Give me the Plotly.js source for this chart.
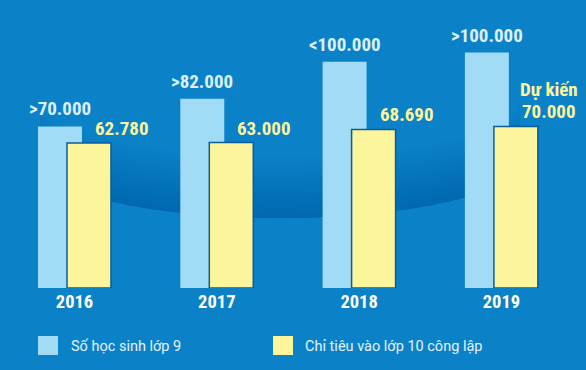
<!DOCTYPE html>
<html>
<head>
<meta charset="utf-8">
<script src="https://cdn.plot.ly/plotly-3.0.1.min.js"></script>
<style>
html,body{margin:0;padding:0;background:#0b82c7;}
#chart{width:586px;height:370px;}
</style>
</head>
<body>
<div id="chart"></div>
<script>
// ---- data ----
const years = ['2016', '2017', '2018', '2019'];
const hocSinhLop9 = [70000, 82000, 98000, 102000];
const chiTieuLop10 = [62780, 63000, 68690, 70000];
const hocSinhLabels = ['>70.000', '>82.000', '<100.000', '>100.000'];
const chiTieuLabels = ['62.780', '63.000', '68.690', '70.000'];
const chiTieuNotes = ['', '', '', 'Dự kiến'];
const seriesNames = ['Số học sinh lớp 9', 'Chỉ tiêu vào lớp 10 công lập'];

// ---- style ----
const W = 586, H = 370, M = {l: 0, r: 0, t: 11, b: 82};
const PH = H - M.t - M.b;
const PX = x => x / W;
const PY = y => (H - M.b - y) / PH;
const BG = '#0b82c7';
const BLUE = '#a2dbf6';
const YELLOW = '#fdf59b';
const COND = "'Roboto Condensed', Roboto, sans-serif";
const condFont = (size, color) => ({family: COND, size: size, weight: 'bold', stretch: 'condensed', color: color});
const BAR_W = 0.309;

const traces = [
  {type: 'bar', x: years, y: hocSinhLop9, name: seriesNames[0], width: BAR_W, offset: -0.2565,
   marker: {color: BLUE, line: {width: 0}}, showlegend: false, hoverinfo: 'skip'},
  {type: 'bar', x: years, y: chiTieuLop10, name: seriesNames[1], width: BAR_W, offset: -0.0527,
   marker: {color: YELLOW, line: {color: '#0b5c99', width: 1.5}}, showlegend: false, hoverinfo: 'skip'}
];

const annotations = [];
years.forEach((yr, i) => {
  annotations.push({x: i, y: hocSinhLop9[i], xref: 'x', yref: 'y', text: hocSinhLabels[i],
    showarrow: false, xanchor: 'center', yanchor: 'bottom', xshift: -14.5, yshift: 4,
    font: condFont(19, '#dcf0fb')});
  annotations.push({x: i, y: chiTieuLop10[i], xref: 'x', yref: 'y', text: chiTieuLabels[i],
    showarrow: false, xanchor: 'center', yanchor: 'bottom', xshift: 47.5, yshift: 1,
    font: condFont(19, YELLOW)});
  if (chiTieuNotes[i]) {
    annotations.push({x: i, y: chiTieuLop10[i], xref: 'x', yref: 'y', text: chiTieuNotes[i],
      showarrow: false, xanchor: 'center', yanchor: 'bottom', xshift: 47.5, yshift: 23,
      font: condFont(19, YELLOW)});
  }
});

// legend (drawn manually for large swatches)
const legendItems = [
  {name: seriesNames[0], color: BLUE, x0: 38, x1: 58, tx: 69},
  {name: seriesNames[1], color: YELLOW, x0: 273, x1: 293, tx: 303}
];
const shapes = [];
legendItems.forEach(it => {
  shapes.push({type: 'rect', xref: 'paper', yref: 'paper', x0: PX(it.x0), x1: PX(it.x1),
    y0: PY(355), y1: PY(336), fillcolor: it.color, line: {width: 0}});
  annotations.push({xref: 'paper', yref: 'paper', x: PX(it.tx), y: PY(346), text: it.name,
    showarrow: false, xanchor: 'left', yanchor: 'middle',
    font: {family: 'Roboto, Arial, sans-serif', size: 14.5, color: '#e4f2fb'}});
});

// background dome (decorative darker band fading upward)
function crescent(cx, cy, a, b, d) {
  const pts = [];
  const n = 60;
  for (let k = 0; k <= n; k++) {
    const t = Math.PI * k / n;
    pts.push([cx + a * Math.cos(t), cy + b * Math.sin(t)]);
  }
  for (let k = n; k >= 0; k--) {
    const t = Math.PI * k / n;
    pts.push([cx + a * Math.cos(t), cy - d + b * Math.sin(t)]);
  }
  return 'M' + pts.map(p => PX(p[0]).toFixed(5) + ',' + PY(p[1]).toFixed(5)).join(' L') + ' Z';
}
for (let d = 5; d <= 60; d += 5) {
  shapes.push({type: 'path', xref: 'paper', yref: 'paper', layer: 'below',
    path: crescent(280, 161, 240, 57, d), fillcolor: 'rgba(0,40,110,0.025)', line: {width: 0}});
}

const layout = {
  width: W, height: H, margin: M,
  paper_bgcolor: BG, plot_bgcolor: 'rgba(0,0,0,0)',
  barmode: 'overlay', showlegend: false,
  xaxis: {type: 'category', range: [-0.5235, 3.5945], showgrid: false, zeroline: false, showline: false,
    ticks: '', tickfont: condFont(18.5, '#ffffff')},
  yaxis: {range: [0, 120000], visible: false, showgrid: false, zeroline: false},
  annotations: annotations, shapes: shapes
};

Plotly.newPlot('chart', traces, layout, {staticPlot: true, displayModeBar: false});
</script>
</body>
</html>
